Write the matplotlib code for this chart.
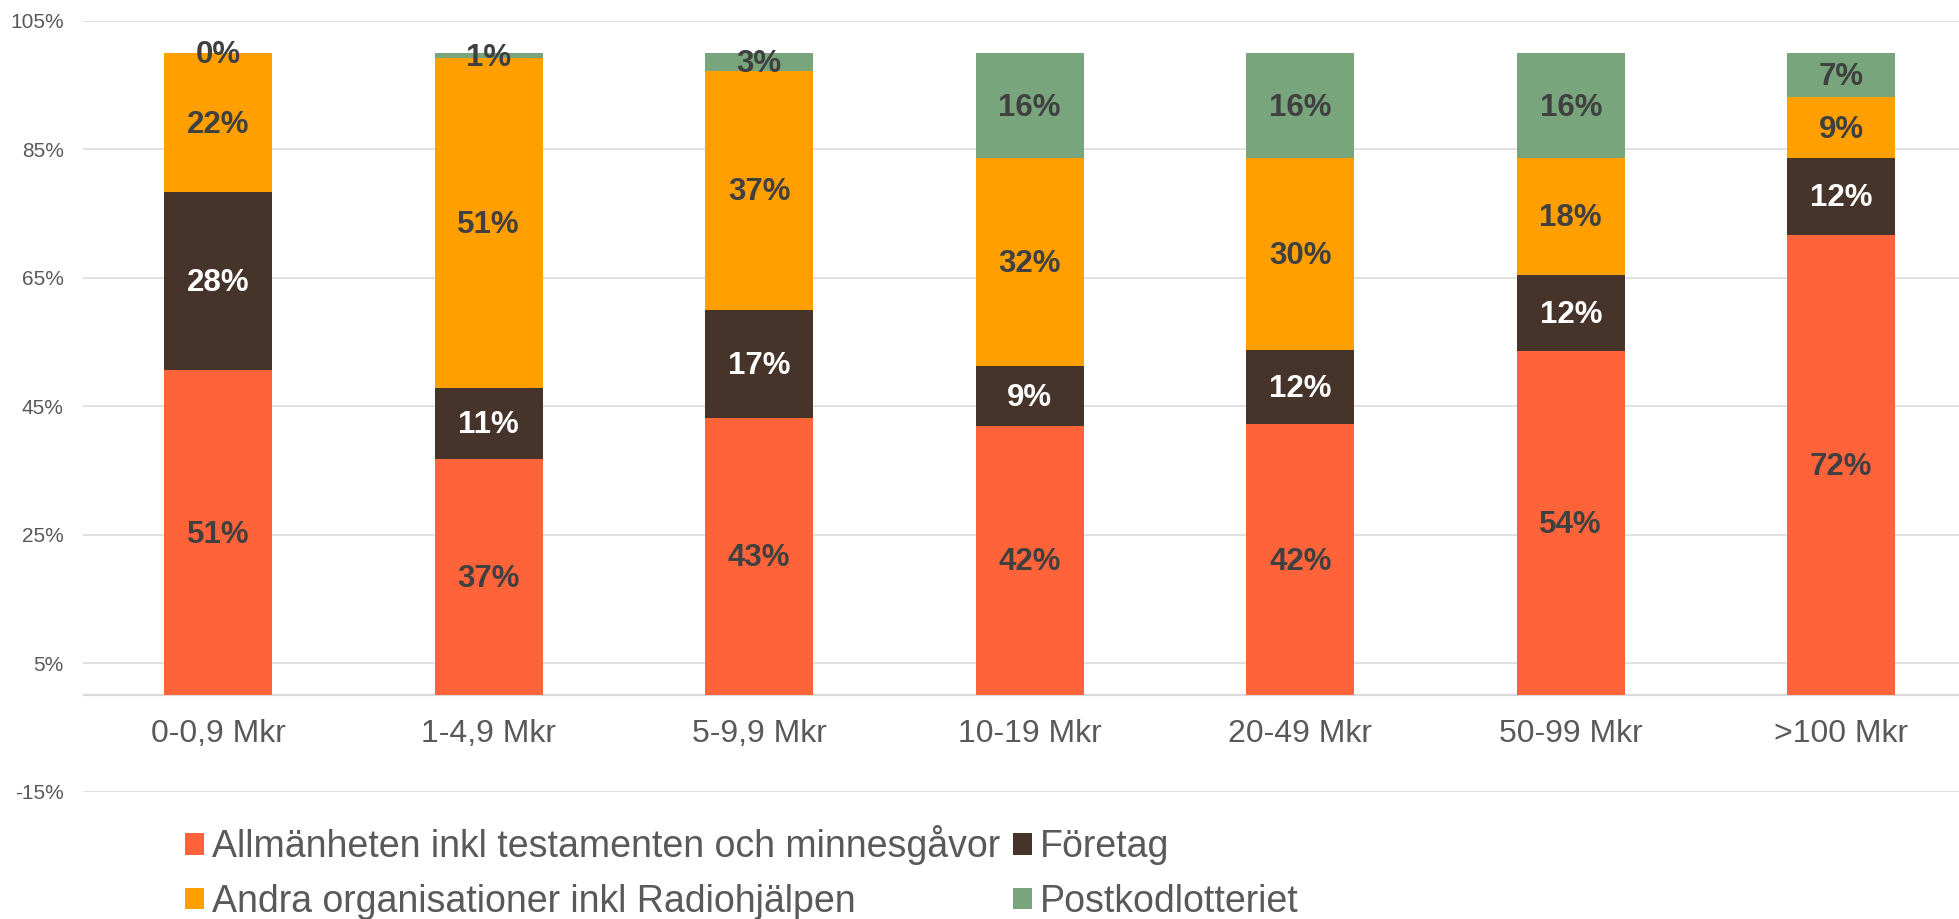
import numpy as np
import matplotlib.pyplot as plt

plt.rcParams['font.family'] = ['Liberation Sans', 'DejaVu Sans']

# data (share in %)
categories = ['0-0,9 Mkr', '1-4,9 Mkr', '5-9,9 Mkr', '10-19 Mkr', '20-49 Mkr', '50-99 Mkr', '>100 Mkr']
allmanheten = [50.6, 36.8, 43.2, 42.0, 42.2, 53.6, 71.7]
foretag = [27.7, 11.1, 16.8, 9.2, 11.6, 11.9, 12.0]
andra_org = [21.7, 51.3, 37.2, 32.4, 29.8, 18.1, 9.4]
postkod = [0.0, 0.8, 2.8, 16.4, 16.4, 16.4, 6.9]

series_names = ['Allmänheten inkl testamenten och minnesgåvor', 'Företag',
                'Andra organisationer inkl Radiohjälpen', 'Postkodlotteriet']
colors = ['#FF6339', '#46332A', '#FFA000', '#78A57C']
label_colors = ['#404040', 'white', '#404040', '#404040']

yticks = [-15, 5, 25, 45, 65, 85, 105]
ytick_labels = ['-15%', '5%', '25%', '45%', '65%', '85%', '105%']

fig = plt.figure(figsize=(19.59, 9.19), dpi=100)
ax = fig.add_axes([83/1959, 1 - 791.5/919, (1976.5 - 83)/1959, (791.5 - 21)/919])

x = np.arange(len(categories))
bottom = np.zeros(len(categories))
handles = []
for vals, name, col, lc in zip([allmanheten, foretag, andra_org, postkod], series_names, colors, label_colors):
    vals = np.array(vals)
    b = ax.bar(x, vals, 0.4, bottom=bottom, color=col, label=name, zorder=3)
    handles.append(b)
    for xi, v, bt in zip(x, vals, bottom):
        ax.text(xi, bt + v / 2 - 0.3, f'{round(v)}%', ha='center', va='center',
                fontsize=22.5, fontweight='bold', color=lc, zorder=4)
    bottom += vals

ax.set_xlim(-0.5, 6.5)
ax.set_ylim(-15, 105)
ax.set_yticks(yticks)
ax.set_yticklabels(ytick_labels, fontsize=15, color='#595959')
ax.tick_params(axis='y', length=0, pad=14)
ax.set_xticks([])
ax.grid(axis='y', color='#d9d9d9', linewidth=1.1, zorder=0)
ax.axhline(0, color='#d9d9d9', linewidth=1.6, zorder=2)
for s in ax.spines.values():
    s.set_visible(False)

for xi, cat in zip(x, categories):
    ax.text(xi, -6.0, cat, ha='center', va='center', fontsize=23, color='#595959')

fig.legend(handles=[handles[0], handles[2], handles[1], handles[3]],
           labels=[series_names[0], series_names[2], series_names[1], series_names[3]],
           ncol=2, loc='center left', bbox_to_anchor=(185/1959, 1 - 872.5/919),
           frameon=False, fontsize=27, labelcolor='#595959',
           handlelength=0.5, handleheight=0.5, handletextpad=0.22,
           columnspacing=0.35, labelspacing=0.5, borderpad=0, borderaxespad=0)

fig.savefig('out.png', dpi=100)
